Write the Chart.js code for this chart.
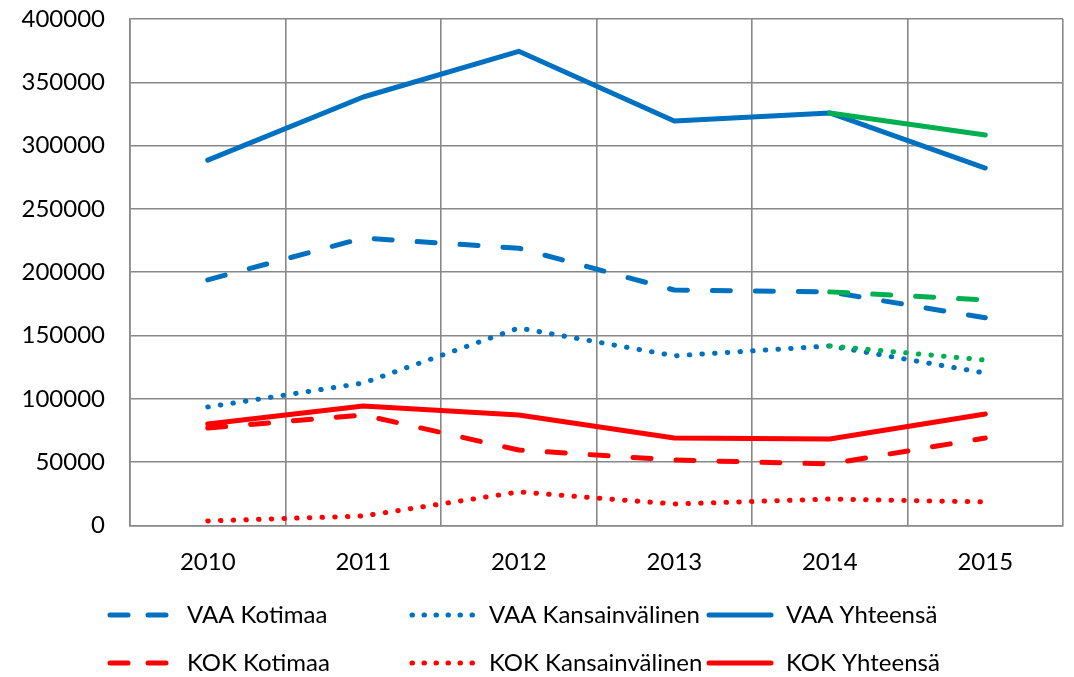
<!DOCTYPE html>
<html>
<head>
<meta charset="utf-8">
<script src="https://cdn.jsdelivr.net/npm/chart.js@4.4.0/dist/chart.umd.min.js"></script>
<style>
html,body{margin:0;padding:0;background:#fff;}
#wrap{width:1074px;height:677px;position:relative;}
</style>
</head>
<body>
<div id="wrap"><canvas id="c" width="1074" height="677"></canvas></div>
<script>
const years = ['2010','2011','2012','2013','2014','2015'];
const vaaKotimaa = [194000, 227000, 219000, 186000, 184500, 164000];
const vaaKansainvalinen = [93600, 112500, 156000, 134000, 141800, 120400];
const vaaYhteensa = [288500, 338400, 374500, 319400, 325800, 282300];
const kokKotimaa = [77000, 87300, 59600, 51700, 48600, 69100];
const kokKansainvalinen = [3600, 7500, 26500, 17000, 20900, 18600];
const kokYhteensa = [80200, 94400, 87300, 69100, 68300, 88100];
const altKotimaa = [null, null, null, null, 184500, 178100];
const altKansainvalinen = [null, null, null, null, 141800, 130700];
const altYhteensa = [null, null, null, null, 325800, 308400];
const yTicks = [0, 50000, 100000, 150000, 200000, 250000, 300000, 350000, 400000];

const BLUE = '#0070C0', RED = '#FF0000', GREEN = '#00B050';
const FONT = 'Lato';
const FSIZE = 24;
const DASH = [18, 25];
const DOT = [0.5, 12.2];

function ds(label, data, color, style, order, inLegend) {
  return {
    label, data, borderColor: color, backgroundColor: color,
    borderWidth: 5, borderDash: style === 'dash' ? DASH : style === 'dot' ? DOT : [],
    borderCapStyle: 'round', borderJoinStyle: 'round',
    pointRadius: 0, pointHoverRadius: 0, tension: 0, fill: false,
    spanGaps: false, order, _style: style, _legend: inLegend
  };
}

const datasets = [
  ds('VAA Kotimaa', vaaKotimaa, BLUE, 'dash', 2, true),
  ds('VAA Kansainvälinen', vaaKansainvalinen, BLUE, 'dot', 2, true),
  ds('VAA Yhteensä', vaaYhteensa, BLUE, 'solid', 2, true),
  ds('KOK Kotimaa', kokKotimaa, RED, 'dash', 1, true),
  ds('KOK Kansainvälinen', kokKansainvalinen, RED, 'dot', 1, true),
  ds('KOK Yhteensä', kokYhteensa, RED, 'solid', 1, true),
  ds('', altKotimaa, GREEN, 'dash', 0, false),
  ds('', altKansainvalinen, GREEN, 'dot', 0, false),
  ds('', altYhteensa, GREEN, 'solid', 0, false)
];

const legendPlugin = {
  id: 'gridLegend',
  afterDraw(chart) {
    const ctx = chart.ctx;
    const cols = [108, 410, 707];
    const rows = [615, 663];
    const items = chart.data.datasets.filter(d => d._legend);
    ctx.save();
    ctx.font = FSIZE + 'px ' + FONT;
    ctx.textBaseline = 'middle';
    ctx.fillStyle = '#000';
    items.forEach((d, i) => {
      const x = cols[i % 3], y = rows[Math.floor(i / 3)];
      ctx.beginPath();
      ctx.strokeStyle = d.borderColor;
      ctx.lineWidth = 5;
      ctx.lineCap = 'round';
      if (d._style === 'dash') ctx.setLineDash([18, 20]);
      else if (d._style === 'dot') ctx.setLineDash([0.5, 11.5]);
      else ctx.setLineDash([]);
      ctx.moveTo(x + 2, y);
      ctx.lineTo(x + 64, y);
      ctx.stroke();
      ctx.setLineDash([]);
      ctx.fillText(d.label, x + 79, y);
    });
    ctx.restore();
  }
};

new Chart(document.getElementById('c'), {
  type: 'line',
  data: { labels: years, datasets },
  options: {
    responsive: false,
    animation: false,
    layout: { padding: { left: 0, right: 11, top: 19, bottom: 0 } },
    plugins: { legend: { display: false }, tooltip: { enabled: false } },
    scales: {
      x: {
        offset: true,
        grid: { offset: true, color: '#888', lineWidth: 1.6, drawTicks: false },
        border: { color: '#888', width: 1.6 },
        ticks: { color: '#000', font: { family: FONT, size: FSIZE }, padding: 22, maxRotation: 0 },
        afterFit(scale) { scale.height = 151.5; scale.paddingLeft = 0; scale.paddingRight = 0; }
      },
      y: {
        min: 0, max: 400000,
        afterBuildTicks(scale) { scale.ticks = yTicks.map(v => ({ value: v })); },
        grid: { color: '#888', lineWidth: 1.6, drawTicks: false },
        border: { color: '#888', width: 1.6 },
        ticks: { color: '#000', font: { family: FONT, size: FSIZE }, padding: 25, callback: v => String(v) },
        afterFit(scale) { scale.width = 130; scale.paddingTop = 0; scale.paddingBottom = 0; }
      }
    }
  },
  plugins: [legendPlugin]
});
</script>
</body>
</html>
